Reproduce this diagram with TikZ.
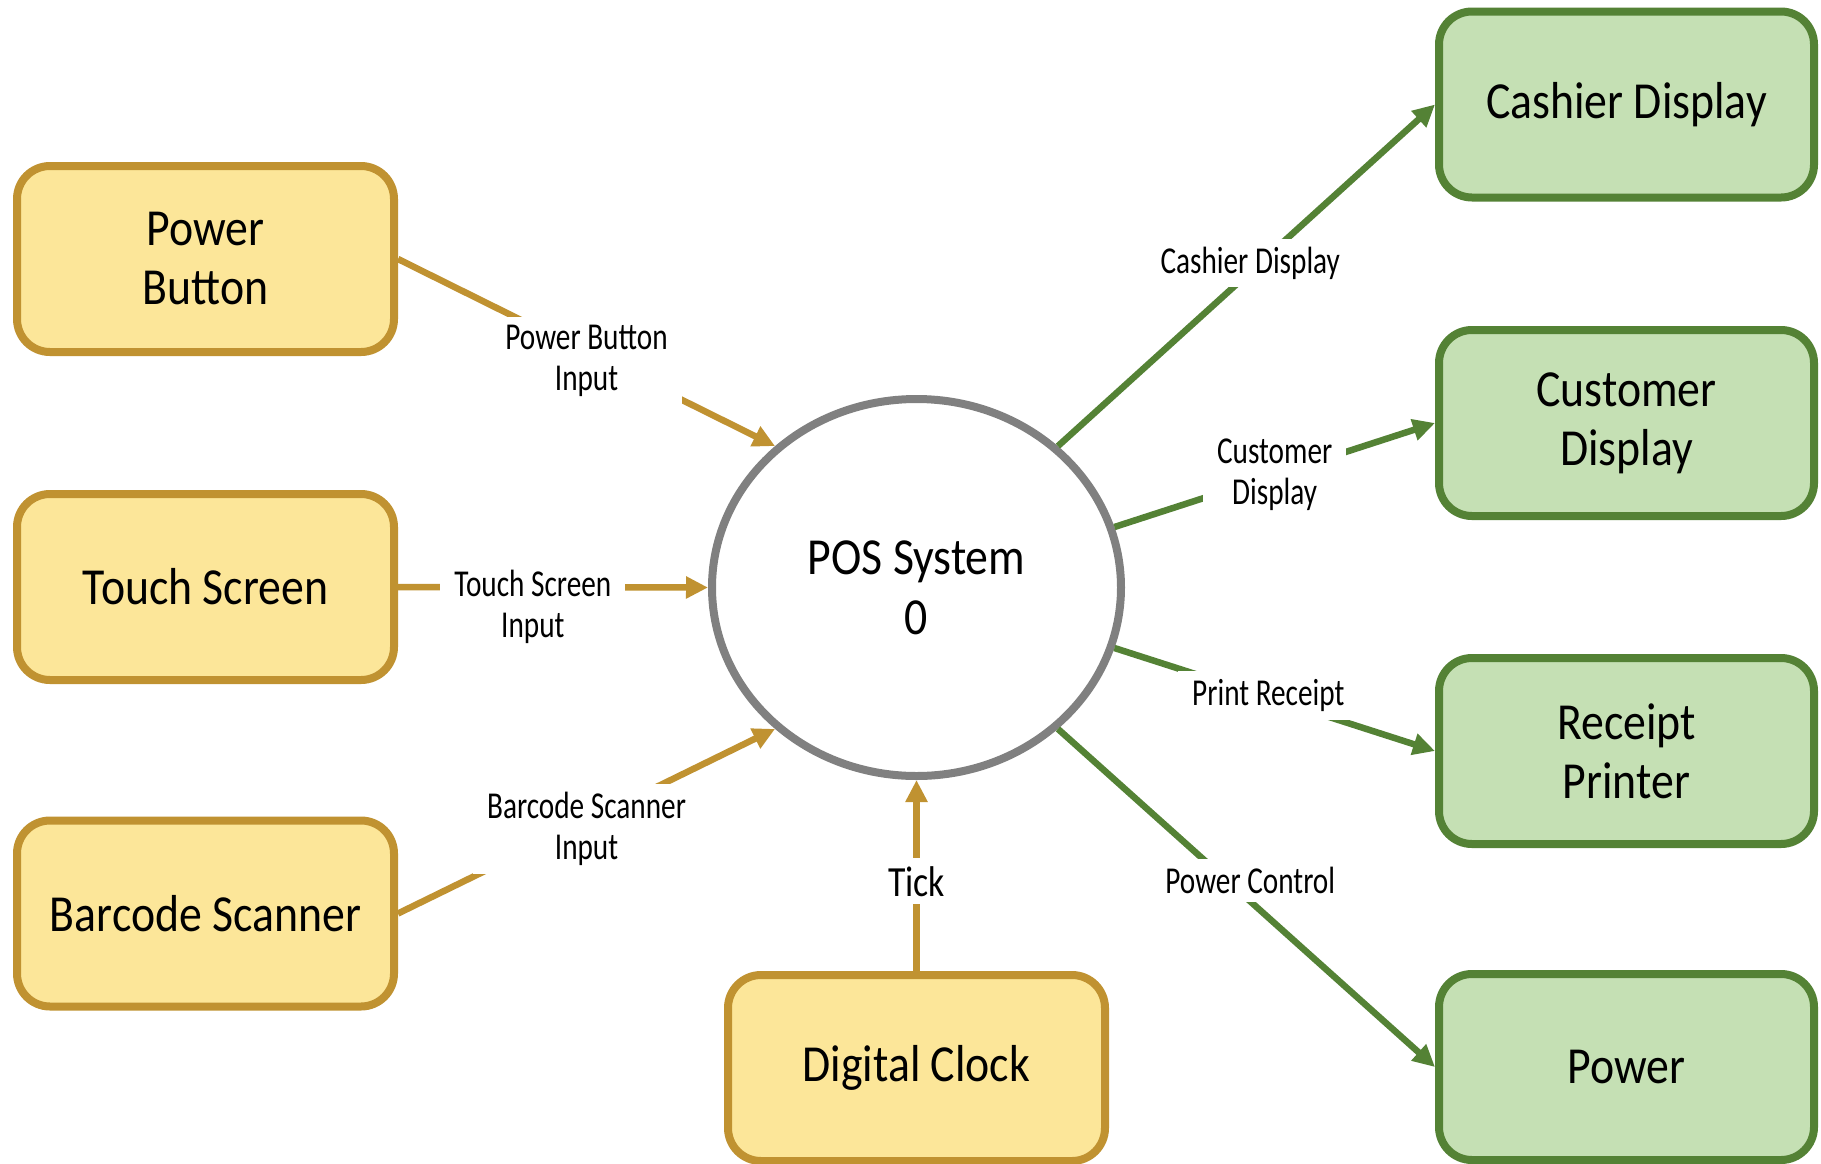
\documentclass[tikz,border=0pt]{standalone}
\usepackage{fontspec}
\setmainfont{Carlito}
\newfontfamily\boxfont[FakeStretch=0.88]{Carlito}
\newfontfamily\lblfont[FakeStretch=0.77]{Carlito}
\newfontfamily\tickfont[FakeStretch=0.83]{Carlito}
\usetikzlibrary{arrows.meta,shapes.geometric}
\definecolor{yfill}{HTML}{FCE699}
\definecolor{ydraw}{HTML}{C09231}
\definecolor{gfill}{HTML}{C5E0B4}
\definecolor{gdraw}{HTML}{548235}
\definecolor{cdraw}{HTML}{808080}
\tikzset{
  srcbox/.style={draw=ydraw, fill=yfill, line width=8pt, rounded corners=33pt,
    minimum width=377pt, minimum height=186pt, align=center,
    font=\boxfont\fontsize{52}{59}\selectfont},
  dstbox/.style={draw=gdraw, fill=gfill, line width=8pt, rounded corners=33pt,
    minimum width=375pt, minimum height=186pt, align=center,
    font=\boxfont\fontsize{52}{59}\selectfont},
  procnode/.style={ellipse, draw=cdraw, fill=white, line width=8pt,
    minimum width=409pt, minimum height=377pt, inner sep=0pt, align=center,
    font=\boxfont\fontsize{52}{60}\selectfont},
  inflow/.style={draw=ydraw, line width=6.5pt, -{Triangle[length=22pt,width=21pt]}},
  outflow/.style={draw=gdraw, line width=6.5pt, -{Triangle[length=22pt,width=21pt]}},
  flowlabel/.style={fill=white, inner xsep=14pt, inner ysep=8pt, align=center,
    font=\lblfont\fontsize{38}{41}\selectfont, text=black}
}
\begin{document}
\begin{tikzpicture}[x=1pt,y=-1pt]
\useasboundingbox[fill=white] (0,0) rectangle (1821,1163);
\node[procnode] (pos) at (916.5,587.5) {POS System\\0};
\node[srcbox] (pb) at (205.5,259) {Power\\Button};
\node[srcbox] (ts) at (205.5,587) {Touch Screen};
\node[srcbox] (bs) at (205.5,913.5) {Barcode Scanner};
\node[srcbox] (dc) at (916.5,1068) {Digital Clock};
\node[dstbox] (cd) at (1626.5,104.5) {Cashier Display};
\node[dstbox] (cu) at (1626.5,423) {Customer\\Display};
\node[dstbox] (rp) at (1626.5,751) {Receipt\\Printer};
\node[dstbox] (pw) at (1626.5,1067) {Power};

\draw[inflow] (pb.east) -- node[flowlabel, pos=0.5, yshift=-8pt] {Power Button\\Input} (pos.135);
\draw[inflow] (ts.east) -- node[flowlabel, pos=0.435, yshift=-20pt] {Touch Screen\\Input} (pos.180);
\draw[inflow] (bs.east) -- node[flowlabel, pos=0.5, yshift=-8pt] {Barcode Scanner\\Input} (pos.225);
\draw[inflow] (dc.north) -- node[flowlabel, pos=0.47, font=\tickfont\fontsize{43}{46}\selectfont] {Tick} (pos.270);

\draw[outflow] (pos.45) -- node[flowlabel, pos=0.51, yshift=9pt] {Cashier Display} (cd.west);
\draw[outflow] (pos.17) -- node[flowlabel, pos=0.5] {Customer\\Display} (cu.west);
\draw[outflow] (pos.-17) -- node[flowlabel, pos=0.48, yshift=2pt] {Print Receipt} (rp.west);
\draw[outflow] (pos.-45) -- node[flowlabel, pos=0.51, yshift=21pt] {Power Control} (pw.west);
\end{tikzpicture}
\end{document}
